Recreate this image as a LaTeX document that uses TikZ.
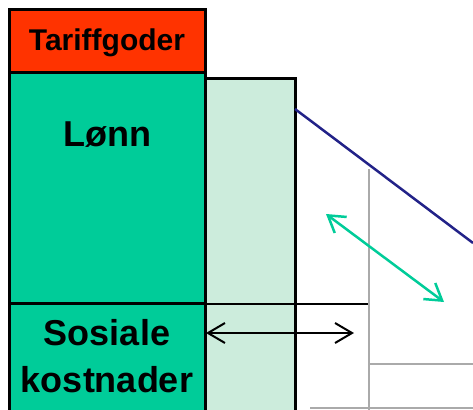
\documentclass[tikz,border=0pt]{standalone}
\usepackage{fontspec}
\setmainfont{Liberation Sans}
\usetikzlibrary{arrows.meta}
\definecolor{tred}{HTML}{FF3300}
\definecolor{tgreen}{HTML}{00CC99}
\definecolor{tlight}{HTML}{CCECDC}
\definecolor{tnavy}{HTML}{222288}
\definecolor{tgray}{HTML}{AAAAAA}
\tikzset{
  box/.style={draw=black, line width=3pt, inner sep=0pt},
  lbl/.style={font=\bfseries\fontsize{36}{47}\selectfont, align=center, inner sep=0pt},
  grayline/.style={draw=tgray, line width=2pt},
  tip/.style={Straight Barb[length=17pt,width=22pt,line width=2pt]}
}
\begin{document}
\begin{tikzpicture}[x=1pt,y=-1pt]
\useasboundingbox (0,0) rectangle (473,409);
\clip (0,0) rectangle (473,409);
% light box
\draw[box, fill=tlight] (205,79) rectangle (295,420);
% main boxes
\draw[box, fill=tred] (9,10) rectangle (205,73);
\draw[box, fill=tgreen] (9,73) rectangle (205,303);
\draw[box, fill=tgreen] (9,303) rectangle (205,420);
% labels
\node[font=\bfseries\fontsize{30}{36}\selectfont, inner sep=0pt] (tar) at (107,43) {Tariffgoder};
\node[lbl] (lonn) at (107,135) {Lønn};
\node[lbl, anchor=base] (sos) at (107,345) {Sosiale};
\node[lbl, anchor=base] (kost) at (107,392) {kostnader};
% gray lines
\coordinate (gv1) at (369,169);
\coordinate (gv2) at (369,420);
\draw[grayline] (gv1) -- (gv2);
\coordinate (gh1) at (369,364);
\coordinate (gh2) at (480,364);
\draw[grayline] (gh1) -- (gh2);
\coordinate (gb1) at (310,408);
\coordinate (gb2) at (480,408);
\draw[grayline] (gb1) -- (gb2);
% black horizontal line
\coordinate (hl1) at (205,304);
\coordinate (hl2) at (368,304);
\draw[black, line width=2.5pt] (hl1) -- (hl2);
% black double arrow
\coordinate (ba1) at (206,333);
\coordinate (ba2) at (354,333);
\draw[black, line width=2pt, {Straight Barb[length=17pt,width=20pt]}-{Straight Barb[length=17pt,width=20pt]}] (ba1) -- (ba2);
% navy line
\coordinate (nv1) at (295,109);
\coordinate (nv2) at (473,243);
\draw[tnavy, line width=2.5pt] (nv1) -- (nv2);
% green double arrow
\coordinate (ga1) at (326,214);
\coordinate (ga2) at (444,302);
\draw[tgreen, line width=2.5pt, {Straight Barb[length=16pt,width=20pt]}-{Straight Barb[length=16pt,width=20pt]}] (ga1) -- (ga2);
\end{tikzpicture}
\end{document}
